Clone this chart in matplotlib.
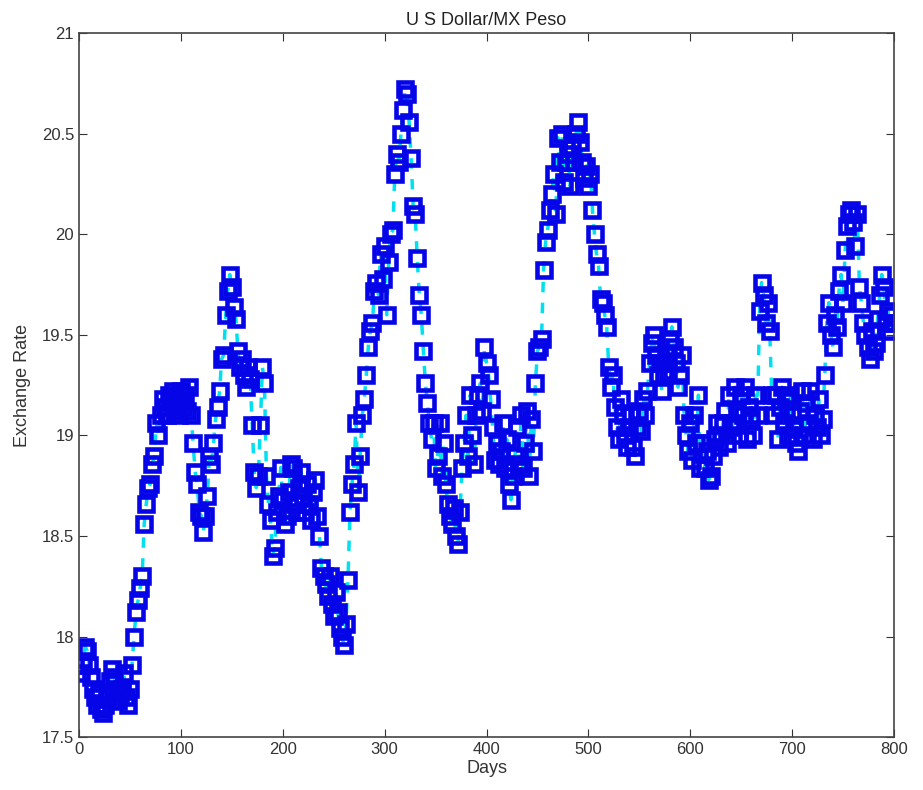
import numpy as np
import matplotlib
matplotlib.use("Agg")
import matplotlib.pyplot as plt

plt.rcParams['font.family'] = ['Liberation Sans', 'DejaVu Sans']

# exchange rate, one value every 2 days
days = np.arange(2, 801, 2)
rate = [
    17.82, 17.86, 17.95, 17.93, 17.86, 17.80, 17.74, 17.70, 17.66, 17.72,
    17.64, 17.62, 17.66, 17.70, 17.78, 17.84, 17.80, 17.74, 17.68, 17.72,
    17.74, 17.82, 17.70, 17.66, 17.74, 17.86, 18.00, 18.12, 18.18, 18.24,
    18.30, 18.56, 18.66, 18.74, 18.76, 18.86, 18.90, 19.06, 19.00, 19.10,
    19.18, 19.14, 19.10, 19.20, 19.16, 19.22, 19.12, 19.18, 19.10, 19.22,
    19.14, 19.20, 19.12, 19.24, 19.10, 18.96, 18.82, 18.76, 18.62, 18.60,
    18.52, 18.60, 18.70, 18.90, 18.86, 18.96, 19.08, 19.14, 19.22, 19.38,
    19.40, 19.60, 19.72, 19.80, 19.74, 19.64, 19.58, 19.42, 19.34, 19.38,
    19.30, 19.24, 19.34, 19.28, 19.05, 18.82, 18.74, 18.80, 19.05, 19.34,
    19.26, 18.80, 18.66, 18.58, 18.40, 18.44, 18.62, 18.70, 18.84, 18.68,
    18.56, 18.60, 18.72, 18.86, 18.84, 18.66, 18.62, 18.74, 18.82, 18.70,
    18.62, 18.76, 18.66, 18.58, 18.72, 18.78, 18.60, 18.50, 18.34, 18.30,
    18.26, 18.20, 18.30, 18.16, 18.10, 18.22, 18.12, 18.04, 18.00, 17.96,
    18.06, 18.28, 18.62, 18.76, 18.86, 19.06, 18.72, 18.90, 19.10, 19.18,
    19.30, 19.44, 19.52, 19.56, 19.72, 19.76, 19.70, 19.90, 19.78, 19.94,
    19.60, 19.86, 20.00, 20.02, 20.30, 20.40, 20.36, 20.50, 20.62, 20.72,
    20.70, 20.56, 20.38, 20.14, 20.10, 19.88, 19.70, 19.60, 19.42, 19.26,
    19.16, 19.06, 18.98, 19.06, 18.84, 18.90, 19.06, 18.80, 18.96, 18.76,
    18.66, 18.60, 18.56, 18.64, 18.50, 18.46, 18.62, 18.84, 18.96, 19.10,
    18.90, 19.20, 19.00, 18.86, 19.10, 19.20, 19.26, 19.12, 19.44, 19.36,
    19.30, 19.18, 19.04, 18.88, 18.96, 18.86, 18.92, 19.06, 18.84, 18.98,
    18.76, 18.68, 18.80, 18.90, 19.04, 18.86, 19.10, 18.84, 18.96, 19.12,
    18.80, 19.08, 18.92, 19.26, 19.42, 19.44, 19.48, 19.82, 19.96, 20.02,
    20.12, 20.20, 20.30, 20.10, 20.48, 20.36, 20.50, 20.26, 20.36, 20.40,
    20.24, 20.44, 20.36, 20.50, 20.56, 20.46, 20.36, 20.28, 20.34, 20.24,
    20.30, 20.12, 20.00, 19.90, 19.84, 19.68, 19.66, 19.60, 19.54, 19.34,
    19.24, 19.30, 19.14, 19.04, 18.98, 19.18, 19.10, 19.00, 18.94, 19.04,
    19.10, 18.94, 18.90, 19.04, 19.12, 19.02, 19.18, 19.10, 19.22, 19.36,
    19.46, 19.50, 19.40, 19.30, 19.36, 19.22, 19.30, 19.40, 19.32, 19.48,
    19.54, 19.44, 19.36, 19.24, 19.30, 19.40, 19.10, 19.00, 18.92, 19.06,
    18.88, 19.10, 18.96, 19.20, 18.84, 18.96, 18.84, 18.92, 18.78, 18.80,
    18.90, 18.98, 19.06, 18.94, 19.00, 19.06, 19.12, 18.96, 19.20, 19.04,
    19.06, 19.24, 19.12, 19.00, 19.20, 19.10, 19.24, 18.98, 19.14, 19.08,
    19.00, 19.20, 19.10, 19.62, 19.76, 19.70, 19.56, 19.66, 19.52, 19.20,
    19.10, 19.20, 18.98, 19.14, 19.24, 19.06, 19.18, 19.00, 19.20, 19.10,
    19.04, 18.96, 18.92, 19.12, 19.22, 19.00, 19.16, 19.06, 19.22, 18.98,
    19.10, 19.04, 19.18, 19.00, 19.08, 19.30, 19.56, 19.66, 19.50, 19.44,
    19.60, 19.54, 19.72, 19.80, 19.66, 19.92, 20.04, 20.10, 20.12, 20.06,
    19.94, 20.10, 19.74, 19.66, 19.56, 19.50, 19.44, 19.38, 19.52, 19.42,
    19.46, 19.58, 19.70, 19.80, 19.74, 19.56, 19.62, 19.52, 19.60, 19.56,
]

fig = plt.figure(figsize=(9.23, 7.9), dpi=100)
ax = fig.add_axes([0.0856, 0.067, 0.883, 0.891])

ax.plot(days, rate, '--', color='#00e0f0', linewidth=2.5, dashes=(3, 3),
        marker='s', markersize=10.5, markerfacecolor='none',
        markeredgecolor='#0505e8', markeredgewidth=3.3)

ax.set_xlim(0, 800)
ax.set_ylim(17.5, 21)
ax.set_xticks(np.arange(0, 801, 100))
ax.set_yticks(np.arange(17.5, 21.01, 0.5))
ax.set_yticklabels(['17.5', '18', '18.5', '19', '19.5', '20', '20.5', '21'])
ax.tick_params(direction='in', top=True, right=True, labelsize=12, length=6,
               colors='#333333')
for s in ax.spines.values():
    s.set_color('#444444')
    s.set_linewidth(1.2)

ax.set_title('U S Dollar/MX Peso', fontsize=13, color='#222222')
ax.set_xlabel('Days', fontsize=13, color='#333333', labelpad=2)
ax.set_ylabel('Exchange Rate', fontsize=13, color='#333333', labelpad=8)

fig.savefig('out.png', dpi=100)
